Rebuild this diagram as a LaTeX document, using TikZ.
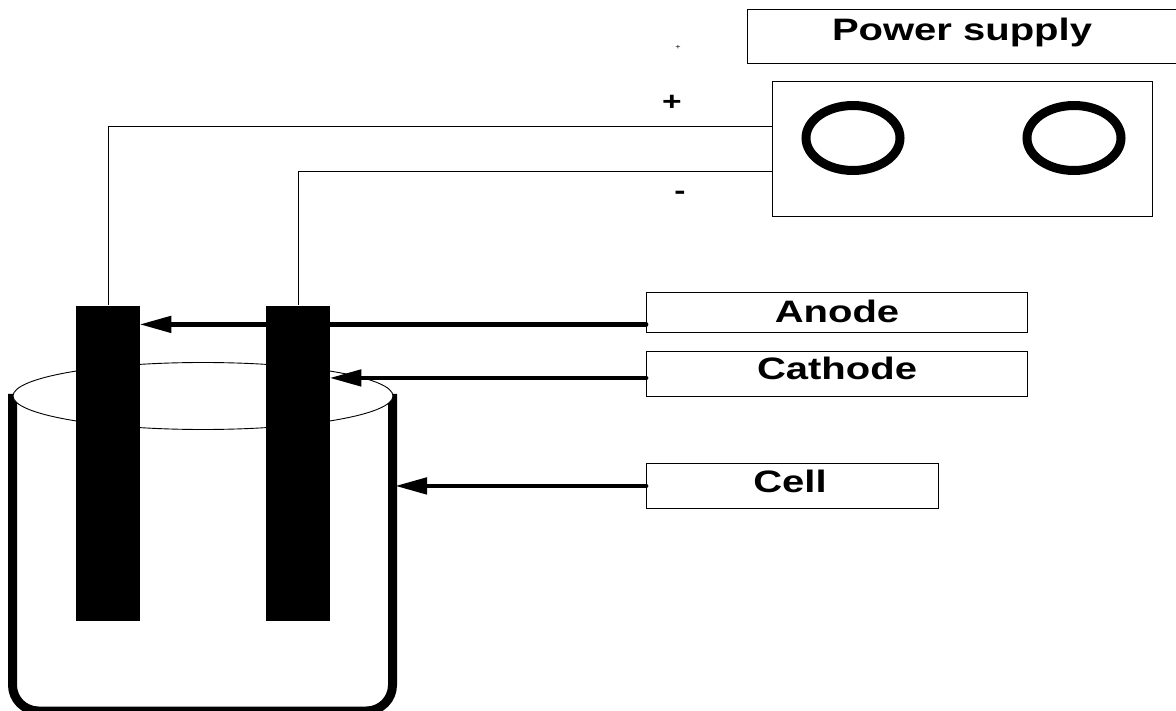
\documentclass[tikz,border=0pt]{standalone}
\usepackage{fontspec}
\setmainfont[FakeStretch=1.29]{Liberation Sans}
\usetikzlibrary{arrows.meta, backgrounds, positioning}
\tikzset{
  labelbox/.style={draw, line width=0.9pt, inner sep=0pt, anchor=north west},
  labeltext/.style={font=\fontsize{31}{31}\selectfont\bfseries},
  signtext/.style={font=\fontsize{26}{26}\selectfont\bfseries},
  rod/.style={fill=black, draw=none, inner sep=0pt, minimum width=64.5pt, minimum height=315pt, anchor=north west},
  pointer/.style={line width=4.8pt, line cap=round, shorten >=-1pt, -{Triangle[length=32pt,width=16pt]}},
  wire/.style={line width=0.9pt}
}
\begin{document}
\begin{tikzpicture}[x=1pt,y=-1pt]
  \useasboundingbox (0,0) rectangle (1176,711);

  % labels
  \node[labelbox,minimum width=432pt,minimum height=54pt] (supplybox) at (747,9) {};
  \node[labeltext] (supplytext) at (962,32) {Power supply};
  \node[labelbox,minimum width=380pt,minimum height=135pt] (unitbox) at (772,81) {};
  \node[labelbox,minimum width=381pt,minimum height=40pt] (anodebox) at (646,292) {};
  \node[labeltext] (anodetext) at (837,311) {Anode};
  \node[labelbox,minimum width=381pt,minimum height=45pt] (cathodebox) at (646,351) {};
  \node[labeltext] (cathodetext) at (837,368) {Cathode};
  \node[labelbox,minimum width=292pt,minimum height=45pt] (cellbox) at (646,463) {};
  \node[labeltext] (celltext) at (790,481) {Cell};

  \node[font=\fontsize{7}{7}\selectfont] (tinyplus) at (678,47) {+};
  \node[signtext] (plus) at (672,103) {+};
  \node[signtext] (minus) at (680,195) {-};

  % knobs
  \path[draw,line width=9pt] (853,138) ellipse (47 and 32.5);
  \path[draw,line width=9pt] (1074,138) ellipse (47 and 32.5);

  % rods
  \node[rod] (rod1) at (75.5,305.5) {};
  \node[rod] (rod2) at (265.5,305.5) {};

  % wires
  \path (unitbox.north west) ++(0,45.5) node[coordinate] (w1) {}
        (unitbox.north west) ++(0,90.5) node[coordinate] (w2) {}
        (anodebox.south west) ++(0,-8.5) node[coordinate] (a1) {}
        (cathodebox.west) ++(0,4) node[coordinate] (a2) {}
        (cellbox.west) node[coordinate] (a3) {}
        (396,0) node[coordinate] (wall) {};
  \draw[wire] (w1) -| (rod1.north);
  \draw[wire] (w2) -| (rod2.north);

  \begin{pgfonlayer}{background}
    % cell
    \path[draw,line width=9pt,rounded corners=26pt] (12.5,394) -- (12.5,711) -- (392.5,711) -- (392.5,394);
    \path[draw,fill=white,line width=0.9pt] (203,396) ellipse (190 and 33.5);

    % pointers
    \draw[pointer] (a1) -- (a1 -| rod1.east);
    \draw[pointer] (a2) -- (a2 -| rod2.east);
    \draw[pointer] (a3) -- (a3 -| wall);
  \end{pgfonlayer}
\end{tikzpicture}
\end{document}
